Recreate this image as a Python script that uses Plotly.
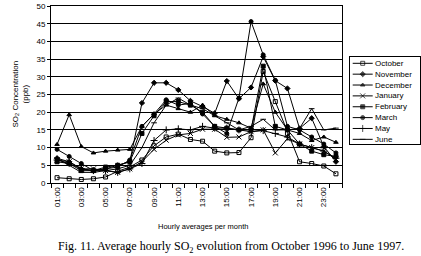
import plotly.graph_objects as go

hours = ["%02d:00" % h for h in range(1, 25)]

october  = [1.5,1.2,1.0,1.2,1.7,3.3,4.5,6.5,10.5,13.0,13.8,12.3,11.8,9.0,8.5,8.6,12.8,31.5,23.0,14.0,6.0,5.5,4.8,2.6]
november = [7.0,6.0,4.0,3.5,4.0,5.0,6.0,22.6,28.3,28.3,26.3,23.2,21.6,19.7,28.8,23.8,27.0,35.7,28.9,26.7,15.4,18.3,10.3,6.0]
december = [10.9,19.3,10.3,8.5,9.0,9.3,9.5,16.0,19.5,22.0,21.0,20.0,22.0,19.0,18.0,17.0,15.5,28.0,20.0,15.0,14.0,12.0,13.0,11.5]
january  = [6.5,6.0,4.0,4.0,3.5,3.0,4.0,6.0,9.5,12.1,13.6,14.0,15.2,15.2,12.9,13.0,14.5,15.0,8.5,12.5,11.0,10.0,9.0,6.8]
february = [6.0,5.5,3.5,3.5,4.5,5.0,6.0,14.0,19.0,23.0,23.0,22.0,20.0,16.0,15.5,15.0,15.0,33.0,16.0,15.0,11.0,9.0,8.0,7.5]
march    = [9.5,7.5,5.5,3.5,4.0,4.5,6.5,16.0,19.5,23.5,22.0,22.5,19.5,16.0,14.0,24.0,45.6,36.2,29.0,16.0,15.0,13.0,11.0,8.5]
may      = [6.5,5.5,4.0,3.5,3.5,3.0,4.0,5.5,12.0,15.0,15.3,15.0,16.0,15.5,15.5,15.0,14.5,14.8,14.0,13.0,11.0,10.0,9.0,7.0]
june     = [7.0,5.0,3.0,3.0,3.5,4.0,5.0,10.0,17.0,22.0,24.0,22.0,21.0,19.0,17.0,15.0,16.0,18.0,15.0,15.0,15.4,21.0,15.0,15.5]

names = ["October", "November", "December", "January", "February", "March", "May", "June"]
values = [october, november, december, january, february, march, may, june]
symbols = ["square-open", "diamond", "triangle-up", "x-thin-open", "square",
           "circle", "cross-thin-open", "line-ew-open"]

x_num = [int(h[:2]) for h in hours]
tick_hours = hours[::2]
tick_pos = [int(h[:2]) for h in tick_hours]

def msize(sym):
    return 5 if sym in ("x-thin-open", "cross-thin-open") else 4

fig = go.Figure()
for name, vals, sym in zip(names, values, symbols):
    fig.add_trace(go.Scatter(
        x=x_num, y=vals, name=name, mode="lines+markers", showlegend=False,
        line=dict(color="black", width=1),
        marker=dict(symbol=sym, size=msize(sym), color="black",
                    line=dict(color="black", width=1)),
    ))

# legend drawn in its own small axes box (real text via annotations)
for i, (name, sym) in enumerate(zip(names, symbols), start=1):
    fig.add_trace(go.Scatter(
        x=[2.7, 12.7, 22.7], y=[i, i, i], mode="lines+markers", showlegend=False,
        xaxis="x2", yaxis="y2", hoverinfo="skip",
        line=dict(color="black", width=1),
        marker=dict(symbol=sym, size=[0, msize(sym), 0], color="black",
                    line=dict(color="black", width=1)),
    ))
    fig.add_annotation(xref="x2", yref="y2", x=23.3, y=i, text=name,
                       showarrow=False, xanchor="left", yanchor="middle",
                       font=dict(size=8))

W = 370.0
fig.update_layout(
    width=421, height=256,
    margin=dict(l=51, r=0, t=6, b=73),
    paper_bgcolor="white", plot_bgcolor="white",
    font=dict(family="Liberation Sans, Arial", size=8, color="black"),
    xaxis=dict(
        domain=[0, 291 / W],
        range=[0.5, 24.5], tickmode="array", tickvals=tick_pos, ticktext=tick_hours,
        tickangle=-90, ticks="", showgrid=False, zeroline=False,
        showline=True, linecolor="black", linewidth=1, mirror=True,
        tickfont=dict(size=8),
        minor=dict(tick0=0.5, dtick=1, ticks="outside", ticklen=4, tickcolor="black", showgrid=False),
    ),
    yaxis=dict(
        range=[0, 50], dtick=5, showgrid=True, gridcolor="black", gridwidth=1,
        zeroline=False, showline=True, linecolor="black", linewidth=1, mirror=True,
        ticks="outside", ticklen=3, tickcolor="black", tickfont=dict(size=8),
    ),
    xaxis2=dict(domain=[299 / W, 369 / W], range=[0, 70], anchor="y2",
                showgrid=False, zeroline=False, showticklabels=False, ticks="",
                showline=True, mirror=True, linecolor="black", linewidth=1),
    yaxis2=dict(domain=[39 / 177.0, 126 / 177.0], range=[8.43, 0.42], anchor="x2",
                showgrid=False, zeroline=False, showticklabels=False, ticks="",
                showline=True, mirror=True, linecolor="black", linewidth=1),
)
fig.add_annotation(xref="paper", yref="paper", x=-31 / W, y=0.5,
                   text="SO<sub>2</sub> Concentration<br>(ppb)", textangle=-90,
                   showarrow=False, font=dict(size=8), xanchor="center", yanchor="middle")
fig.add_annotation(xref="paper", yref="paper", x=152 / W, y=-43 / 177.0,
                   text="Hourly averages per month", showarrow=False,
                   font=dict(size=7.5), xanchor="center", yanchor="middle")
fig.add_annotation(xref="paper", yref="paper", x=180 / W, y=-54 / 177.0,
                   text="Fig. 11. Average hourly SO<sub>2</sub> evolution from October 1996 to June 1997.",
                   showarrow=False, font=dict(size=12, family="Liberation Serif, Times New Roman"),
                   xanchor="center", yanchor="top")
fig.write_html("out.html", config={"displayModeBar": False},
               post_script=["document.body.style.margin='0px';"])
